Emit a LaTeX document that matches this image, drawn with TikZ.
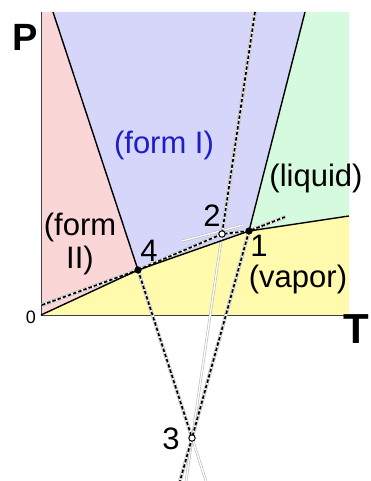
\documentclass[tikz,border=0pt]{standalone}
\usepackage{fontspec}
\setmainfont{Liberation Sans}
\definecolor{formtwo}{RGB}{250,214,214}
\definecolor{formone}{RGB}{214,214,250}
\definecolor{liquid}{RGB}{214,250,222}
\definecolor{vapor}{RGB}{255,250,172}
\definecolor{formblue}{RGB}{30,30,200}

\begin{document}
\begin{tikzpicture}[x=1pt,y=-1pt,
  curve/.style={black,line width=1.4pt},
  meta/.style={black,line width=1.7pt,dash pattern=on 3.5pt off 2pt,
    preaction={draw=gray!60,solid,line width=3.4pt},
    preaction={draw=white,solid,line width=2.3pt}},
  ghost/.style={draw=gray!55,line width=0.6pt,double=white,double distance=1.3pt},
  axis/.style={black!75,line width=0.9pt},
  lbl/.style={inner sep=0pt,font=\fontsize{31}{33}\selectfont}]
  \useasboundingbox (0,0) rectangle (371,481);

  % points
  \coordinate (O) at (41,315);
  \coordinate (p1) at (249,231);
  \coordinate (p2) at (222,234);
  \coordinate (p3) at (192,438);
  \coordinate (p4) at (138,270);
  \coordinate (tl) at (53,12);
  \coordinate (tr) at (305,12);
  \coordinate (rv) at (349,216);

  % phase regions
  \fill[formtwo] (41,12) -- (tl) -- (p4) -- (O) -- cycle;
  \fill[formone] (tl) -- (tr) -- (p1) -- (p4) -- cycle;
  \fill[liquid] (tr) -- (349,12) -- (rv) -- (p1) -- cycle;
  \fill[vapor] (O) -- (p4) -- (p1) -- (rv) -- (349,315) -- cycle;

  \draw[axis] (41,12) -- (O) -- (349,315);

  % metastable lines
  \coordinate (g0) at (182,241);
  \coordinate (g1) at (243,225);
  \coordinate (b43) at (206,481);
  \coordinate (b23) at (186,481);
  \coordinate (b13) at (180,481);
  \draw[ghost] (g0) -- (g1);
  \draw[ghost] (p2) -- (b23);
  \draw[ghost] (p3) -- (b43);
  \coordinate (d0) at (42,305);
  \coordinate (d5) at (285,217);
  \coordinate (t2) at (255,12);
  \draw[meta] (d0) -- (p4);
  \draw[meta] (p4) -- (p2) -- (p1) -- (d5);
  \draw[meta] (t2) -- (p2);
  \draw[meta] (p4) -- (p3);
  \draw[meta] (p1) -- (p3) -- (b13);

  % stable lines
  \draw[curve] (tl) -- (p4);
  \draw[curve] (tr) -- (p1);
  \draw[curve] (O) -- (p4) -- (p1) -- (rv);

  \foreach \p in {p1,p4}
    \fill[black] (\p) circle (3.6pt);
  \foreach \p in {p2,p3}
    \filldraw[fill=white,draw=black,line width=1pt] (\p) circle (3.2pt);

  % labels
  \node[lbl,text=formblue] (fI) at (164,145) {(form I)};
  \node[lbl] (liq) at (316,178) {(liquid)};
  \node[lbl,align=center] (fII) at (80,244) {(form\\II)};
  \node[lbl] (vap) at (298,279) {(vapor)};
  \foreach \n/\x/\y in {1/259/246,2/212/216,3/171/439,4/149/251}
    \node[lbl] (n\n) at (\x,\y) {\n};
  \node[inner sep=0pt,font=\fontsize{18}{18}\selectfont] (zero) at (31,317) {0};
  \node[inner sep=0pt,font=\fontsize{38}{38}\selectfont\bfseries] (P) at (25,37) {P};
  \node[inner sep=0pt,font=\fontsize{42}{42}\selectfont\bfseries] (T) at (356,329) {T};
\end{tikzpicture}
\end{document}
